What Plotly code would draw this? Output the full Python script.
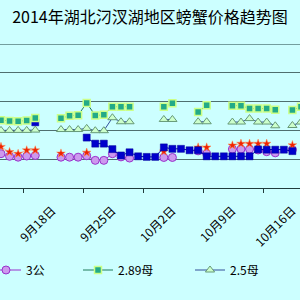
import pandas as pd
import plotly.graph_objects as go

# ---- data ----
dates = pd.date_range("2014-09-15", "2014-10-20", freq="D")
N = None
s_3gong = [31.9, 31.0, 30.7, 31.1, 31.3, N, N, 30.7, 30.7, 30.7, 31.2, 29.6, 29.6, 31.9, 30.8, 30.4,
           N, N, N, 30.6, 30.6, N, N, 32.9, 31.9, N, N, 33.5, 33.5, 33.5, 33.2, 32.6, 32.2, N, 33.3, N]
s_red = [34.3, 32.5, 31.9, 33.1, 33.1, N, N, 32.0, N, N, 32.3, N, N, N, N, N,
         N, N, N, 32.7, N, N, N, 34.1, 34.1, N, N, 34.8, 35.4, 35.4, 35.4, 35.4, N, N, 34.9, N]
s_blue = [N, N, N, N, 42.8, N, N, N, N, N, 37.5, 35.4, 35.4, 33.5, 31.3, 32.4,
          31.0, 30.8, 30.8, 34.1, 33.6, 33.6, 33.1, 33.1, 31.0, 31.0, 31.0, 31.0, 31.0, 31.0, 33.4, 33.3, 33.3, 33.3, 32.8, N]
s_289mu = [43.5, 43.3, 43.2, 43.4, 44.3, N, N, 44.2, 45.1, 45.3, 49.5, 45.2, 45.4, 48.2, 48.2, 48.2,
           N, N, N, 48.2, 49.4, N, N, 46.4, 48.7, N, N, 48.6, 48.6, 47.6, 47.6, 47.6, 47.2, N, 47.1, 48.2]
s_25mu = [40.0, 40.0, 40.0, 40.0, 40.1, N, N, 40.3, 40.3, 40.3, 40.7, 39.9, 39.9, 44.4, 43.0, 43.0,
          N, N, N, 43.8, 43.8, N, N, 43.0, 43.0, N, N, 42.9, 42.9, 44.1, 42.9, 42.9, 41.6, N, 41.7, 42.9]
tick_dates = ["2014-09-18", "2014-09-25", "2014-10-02", "2014-10-09", "2014-10-16"]
tick_labels = ["9月18日", "9月25日", "10月2日", "10月9日", "10月16日"]
title = "2014年湖北汈汊湖地区螃蟹价格趋势图"

BG = "#CCFFFF"
FONT = "Noto Sans CJK SC"

fig = go.Figure()
fig.add_trace(go.Scatter(x=dates, y=s_3gong, name="3公", mode="lines+markers",
                         line=dict(color="#9933CC", width=1),
                         marker=dict(symbol="circle", size=8, color="#CC99EE",
                                     line=dict(color="#9933CC", width=1)),
                         legend="legend"))
fig.add_trace(go.Scatter(x=dates, y=s_red, name="red", mode="lines+markers",
                         line=dict(color="#FF9977", width=0.7),
                         marker=dict(symbol="star", size=6.5, color="#EE2200",
                                     line=dict(color="#FF8855", width=0.5)),
                         showlegend=False))
fig.add_trace(go.Scatter(x=dates, y=s_blue, name="blue", mode="lines+markers",
                         line=dict(color="#0000AA", width=1),
                         marker=dict(symbol="square", size=7, color="#0000CC",
                                     line=dict(color="#000099", width=0.5)),
                         showlegend=False))
fig.add_trace(go.Scatter(x=dates, y=s_289mu, name="2.89母", mode="lines+markers",
                         line=dict(color="#1E7A5A", width=1),
                         marker=dict(symbol="square", size=7, color="#22AA88",
                                     line=dict(color="#CCFF88", width=1.5)),
                         legend="legend2"))
fig.add_trace(go.Scatter(x=dates, y=s_25mu, name="2.5母", mode="lines+markers",
                         line=dict(color="#334E99", width=1),
                         marker=dict(symbol="triangle-up", size=8, color="#CCFFCC",
                                     line=dict(color="#669977", width=1)),
                         legend="legend3"))

d0 = pd.Timestamp("2014-09-18")
day = pd.Timedelta(days=1)
x_range = [d0 - 3.115 * day, d0 + 31.887 * day]
tickvals = [pd.Timestamp(t) - 0.4 * day for t in tick_dates]

legfont = dict(family=FONT, size=12, color="#000000")
def leg(xpx, indent=0):
    return dict(x=xpx / 300, y=0.1, xref="container", yref="container",
                xanchor="left", yanchor="middle", orientation="h",
                bgcolor="rgba(0,0,0,0)", font=legfont, itemwidth=30,
                indentation=indent)

fig.update_layout(
    width=300, height=300,
    paper_bgcolor=BG, plot_bgcolor=BG,
    margin=dict(l=0, r=0, t=44, b=112),
    title=dict(text=title, x=0.5, xanchor="center", y=1 - 17 / 300, yanchor="middle",
               xref="container", yref="container",
               font=dict(family=FONT, size=16, color="#000000")),
    legend=leg(0, -14), legend2=leg(78), legend3=leg(190),
    xaxis=dict(type="date", range=x_range, tickmode="array", tickvals=tickvals,
               ticktext=tick_labels, tickangle=-45, ticks="outside", ticklen=4,
               tickcolor="#203C3C", showline=True, linecolor="#203C3C", linewidth=1,
               showgrid=False, zeroline=False, ticklabelshift=29, ticklabelstandoff=6,
               tickfont=dict(family=FONT, size=12, color="#000000")),
    yaxis=dict(range=[20, 70], dtick=10, tick0=0, showticklabels=False,
               gridcolor="#4F6F6F", gridwidth=1, zeroline=False, showline=False),
    showlegend=True,
)
fig.add_hline(y=70, line=dict(color="#1A3F3F", width=1))
fig.write_html("out.html")
